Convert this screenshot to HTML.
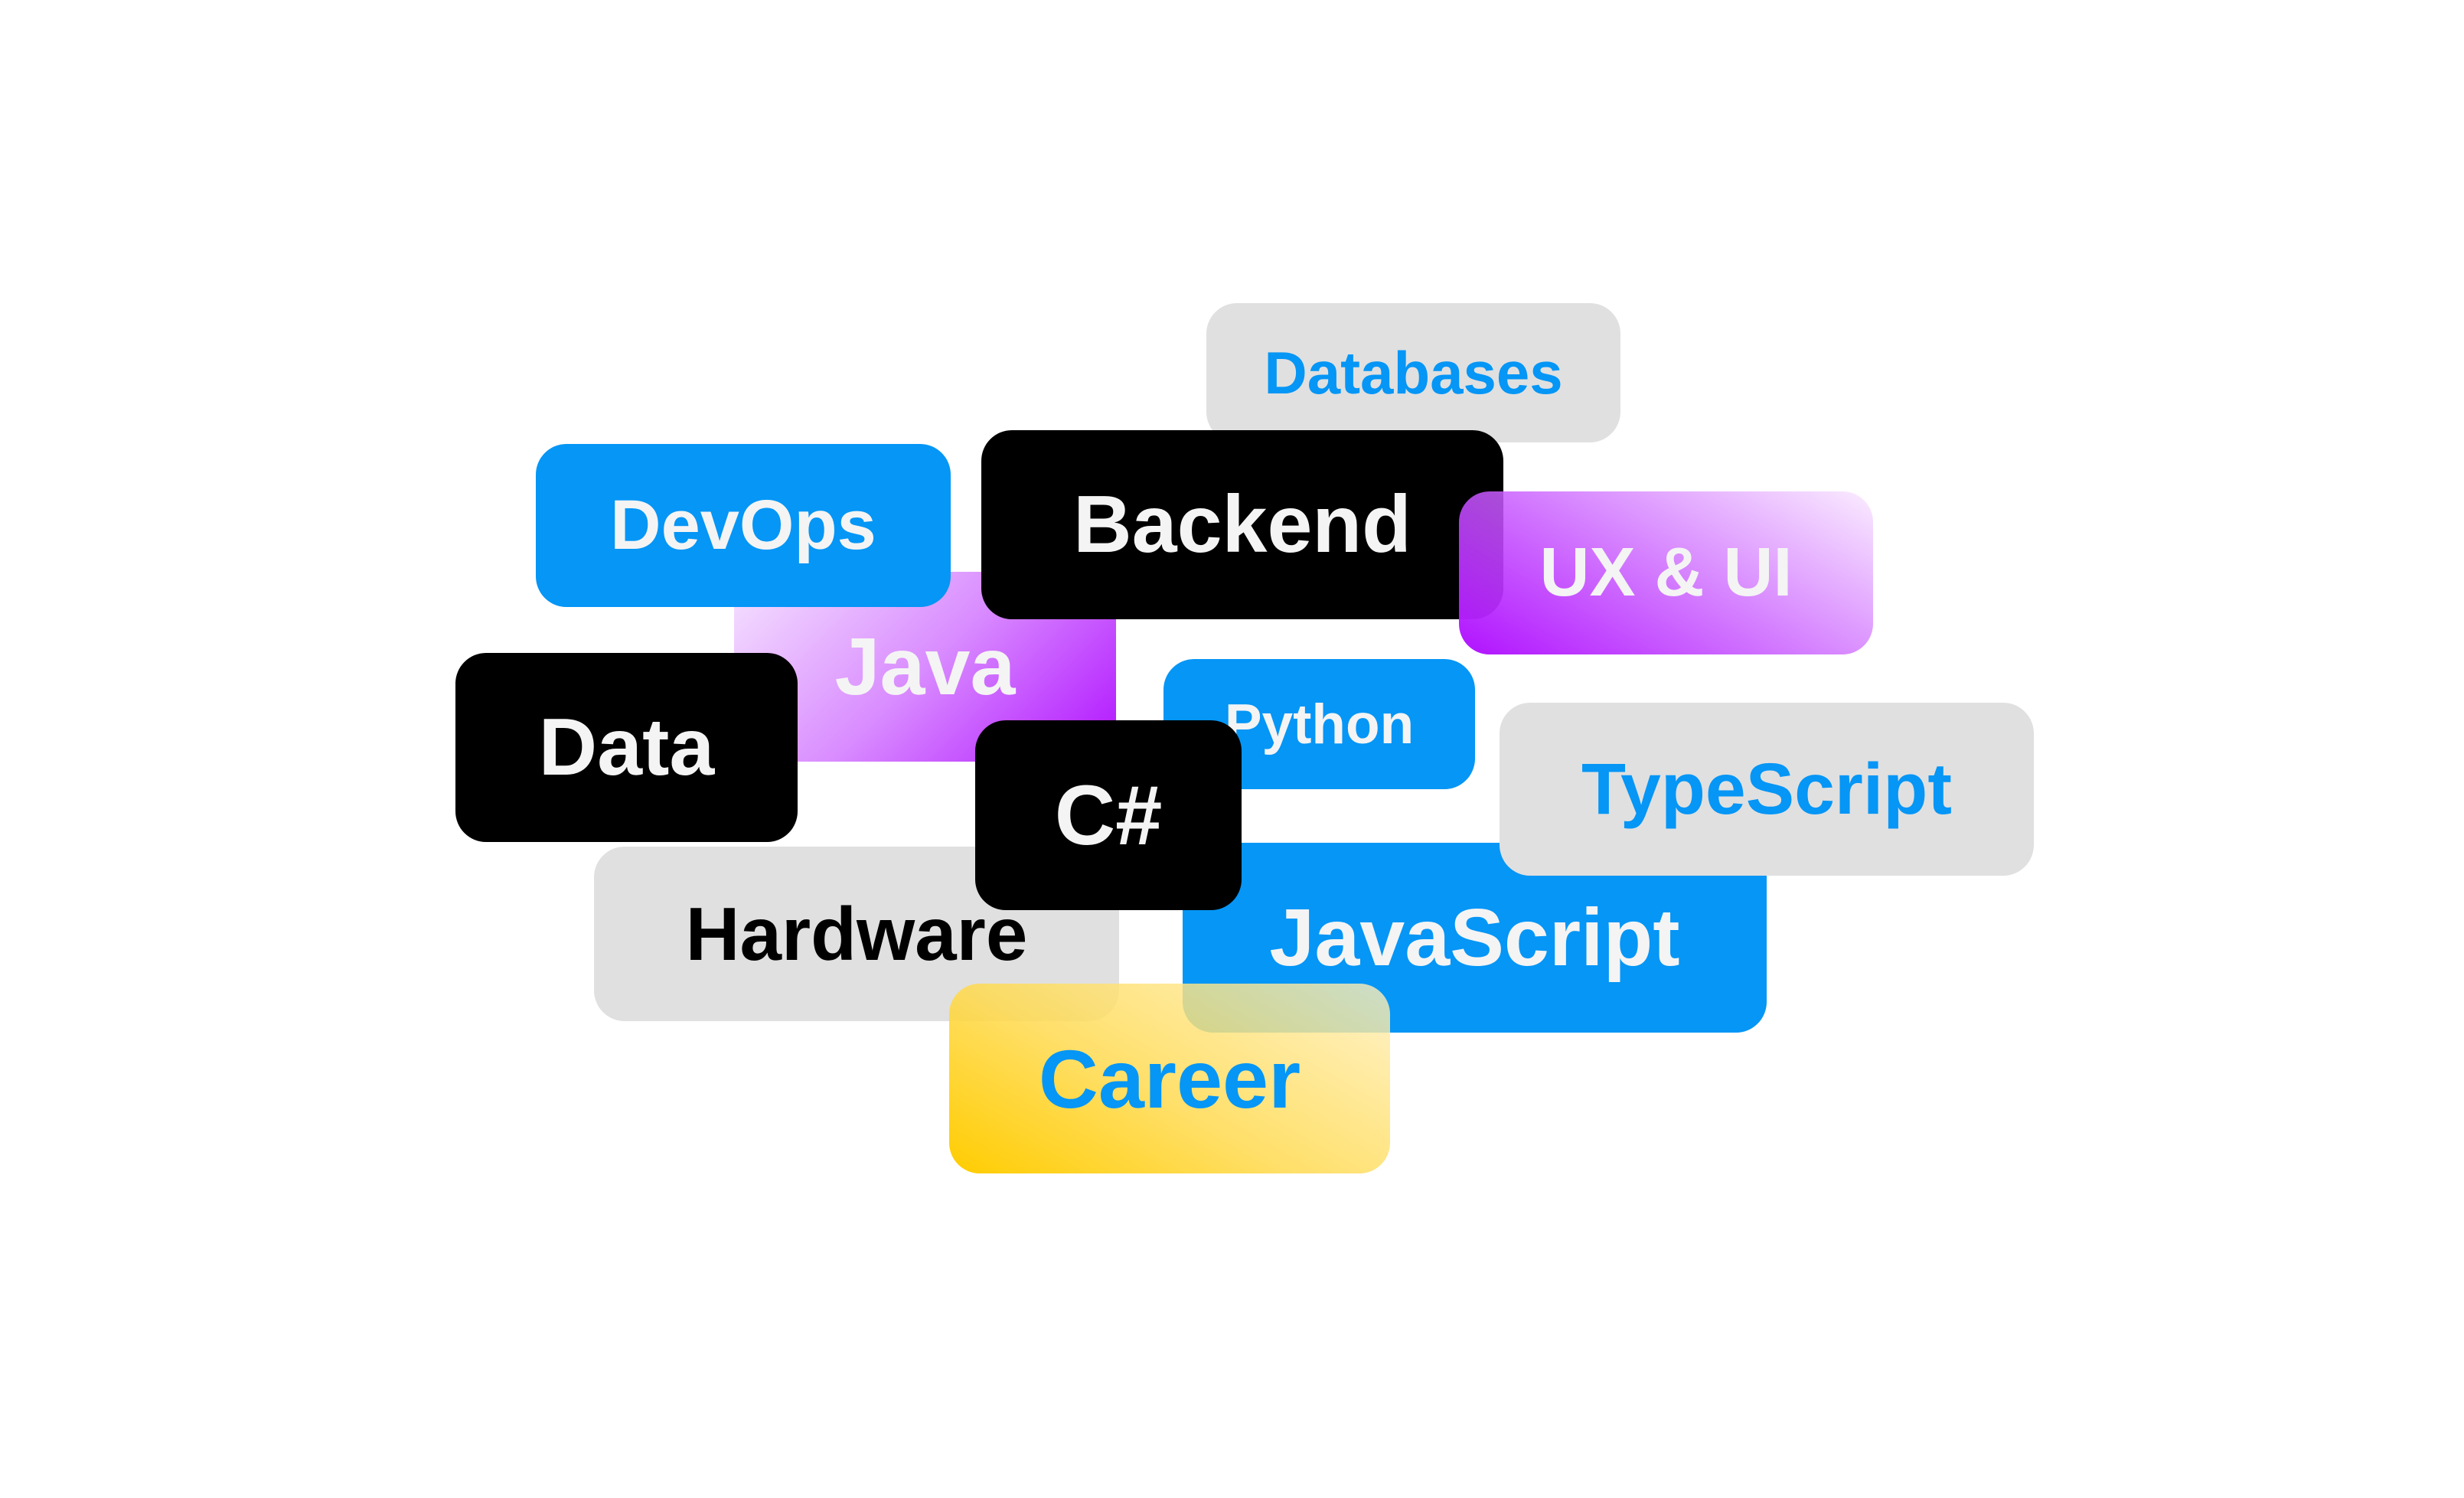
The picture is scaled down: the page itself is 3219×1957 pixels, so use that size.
<!DOCTYPE html>
<html><head><meta charset="utf-8"><style>
html,body{margin:0;padding:0;background:#fff;}
body{width:3219px;height:1957px;position:relative;overflow:hidden;font-family:"Liberation Sans",sans-serif;}
.b{position:absolute;display:flex;align-items:center;justify-content:center;border-radius:40px;font-weight:bold;white-space:nowrap;}
.blue{background:#0596f6;color:#f4f4f4;}
.blk{background:#000;color:#f4f4f4;}
.gray{background:#e0e0e0;}
</style></head><body>
<div class="b gray" style="left:1576px;top:396px;width:541px;height:182px;color:#0596f6;font-size:78px;">Databases</div>
<div class="b" style="left:959px;top:747px;width:499px;height:248px;border-radius:0;background:linear-gradient(135deg,#f6e4ff 0%,#d98cff 50%,#b012ff 100%);color:#f4f4f4;font-size:106px;">Java</div>
<div class="b blue" style="left:700px;top:580px;width:542px;height:213px;font-size:92px;">DevOps</div>
<div class="b blk" style="left:1282px;top:562px;width:682px;height:247px;font-size:106px;">Backend</div>
<div class="b" style="left:1906px;top:642px;width:541px;height:213px;background:linear-gradient(30deg,rgba(176,18,255,1) 0%,rgba(200,90,255,0.85) 45%,rgba(250,235,255,0.95) 100%);color:#f4f4f4;font-size:90px;">UX &amp; UI</div>
<div class="b blk" style="left:595px;top:853px;width:447px;height:247px;font-size:106px;">Data</div>
<div class="b gray" style="left:776px;top:1106px;width:686px;height:228px;color:#000;font-size:98px;">Hardware</div>
<div class="b blue" style="left:1520px;top:861px;width:407px;height:170px;font-size:73px;">Python</div>
<div class="b blue" style="left:1545px;top:1101px;width:763px;height:248px;font-size:106px;">JavaScript</div>
<div class="b gray" style="left:1959px;top:918px;width:698px;height:226px;color:#0596f6;font-size:95px;">TypeScript</div>
<div class="b blk" style="left:1274px;top:941px;width:348px;height:248px;font-size:110px;">C#</div>
<div class="b" style="left:1240px;top:1285px;width:576px;height:248px;background:linear-gradient(30deg,rgba(255,204,0,1) 0%,rgba(255,218,80,0.85) 45%,rgba(255,240,190,0.8) 100%);color:#0596f6;font-size:108px;">Career</div>
</body></html>
